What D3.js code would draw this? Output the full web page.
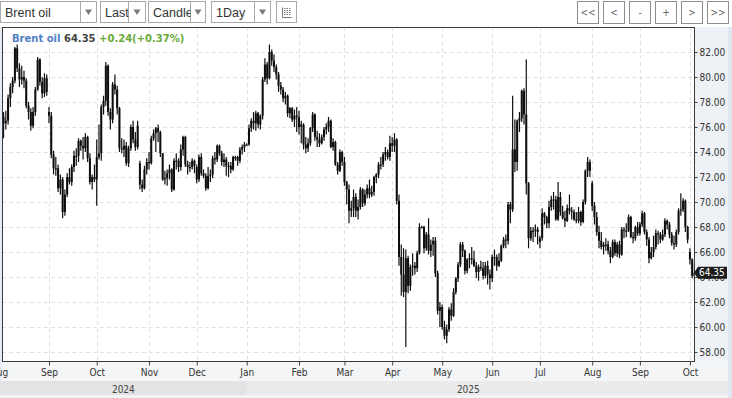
<!DOCTYPE html>
<html><head><meta charset="utf-8">
<script src="https://cdn.jsdelivr.net/npm/d3@7"></script>
<style>
html,body{margin:0;padding:0;background:#fff;}
svg{display:block;}
</style>
</head><body>
<svg id="chart" width="732" height="398"></svg>
<script>
// ---------------- DATA ----------------
const instrument = "Brent oil";
const lastPrice = "64.35";
const changeText = "+0.24(+0.37%)";
const calendarStart = "2024-08-01";
const calendarEnd = "2025-10-03";
const firstBarDate = "2024-08-05";
const yTicks = [58,60,62,64,66,68,70,72,74,76,78,80,82];
const years = ["2024","2025"];
const toolbarItems = ["Brent oil","Last","Candle","1Day"];
const navButtons = ["<<","<","-","+",">",">>"];

const opens = [
76.8,76.3,76.5,78.3,79.2,79.7,82.3,80.7,79.8,80.0,79.7,77.7,77.2,76.1,77.2,79.0,81.4,79.6,78.7,79.9,
77.2,76.9,73.8,72.7,72.7,71.1,71.8,69.2,70.6,72.0,71.6,72.8,73.7,73.7,74.9,74.5,74.3,75.2,73.5,71.6,72.0,
71.8,73.6,73.9,77.6,78.1,80.9,77.2,76.6,79.4,79.0,77.5,74.3,74.2,74.5,73.1,74.3,76.0,75.0,74.4,73.1,71.4,71.1,72.6,
73.2,73.1,75.1,75.5,75.9,75.6,73.9,71.8,71.9,72.3,72.6,71.0,73.3,73.3,72.8,74.2,75.2,73.0,72.8,72.8,73.3,
72.8,71.8,73.6,72.3,72.1,71.1,72.1,72.2,73.5,73.4,74.5,73.9,73.2,73.4,72.9,72.9,72.6,73.6,73.6,73.3,74.2,74.4,
74.6,74.6,75.9,76.5,76.3,77.1,76.2,76.9,79.8,81.0,79.9,82.0,81.3,80.8,80.2,79.3,79.0,78.3,78.5,77.1,77.5,76.6,76.9,
76.8,76.0,76.2,74.6,74.3,74.7,75.9,77.0,75.2,75.0,74.7,75.2,75.8,76.0,76.5,74.4,74.8,73.0,72.5,74.0,
73.2,71.6,71.0,69.3,69.5,70.4,69.3,69.6,71.0,69.9,70.6,71.1,70.6,70.8,72.0,72.2,73.0,73.0,73.8,74.0,73.6,
74.7,74.5,75.0,70.1,65.6,64.2,62.8,65.5,63.3,64.8,64.9,64.7,65.9,68.0,68.0,66.3,67.4,66.1,66.6,66.9,64.3,61.3,
61.6,60.0,59.3,59.8,61.4,60.9,62.8,63.9,65.0,66.6,66.1,64.5,65.4,65.5,65.4,64.9,64.4,64.8,64.7,64.1,64.9,64.2,
63.9,65.6,65.6,64.9,65.3,66.5,67.0,66.9,69.8,69.4,74.2,73.2,76.5,76.7,78.9,77.0,71.5,67.1,67.7,67.7,67.8,
66.8,67.1,69.1,68.8,68.3,69.6,70.2,70.2,68.6,70.4,69.2,68.7,68.5,69.5,69.3,69.2,68.6,68.5,69.2,68.4,70.0,72.5,73.2,
71.5,69.7,68.8,67.6,66.9,66.4,66.6,66.6,66.1,65.6,66.8,65.9,66.6,65.8,67.8,67.7,67.7,68.8,67.2,67.1,68.0,
67.5,68.2,69.1,67.6,67.0,65.5,66.0,66.4,67.5,67.4,67.0,67.4,68.5,68.2,67.4,66.7,66.6,67.6,69.3,69.4,70.1,68.0,
66.0,65.4,64.1];

const highs = [
77.2,77.3,78.6,79.5,80.0,82.4,82.6,81.1,80.9,80.5,79.9,78.0,77.5,77.6,79.2,81.6,81.5,80.0,80.3,80.2,
77.6,77.2,74.1,73.6,73.0,72.2,72.0,71.0,72.3,72.7,73.0,74.1,74.3,75.1,75.0,75.2,75.5,75.3,73.9,72.2,73.0,
75.0,76.2,77.8,78.5,81.2,81.0,77.5,79.6,80.2,79.3,77.6,75.1,75.0,74.8,74.5,76.2,76.5,75.6,76.5,73.3,71.8,72.9,73.5,
74.0,75.3,75.8,76.0,76.2,75.7,73.9,72.5,72.6,73.0,72.7,73.5,73.9,73.5,74.6,75.3,75.3,73.3,73.2,73.5,73.4,
73.0,73.8,73.9,72.6,72.3,72.8,72.6,73.7,74.0,74.6,74.6,74.1,73.9,73.6,73.2,73.2,73.7,73.7,73.7,74.4,74.6,74.8,
74.7,76.2,76.7,77.2,77.3,77.2,77.0,80.0,81.5,81.2,82.6,82.2,81.8,81.0,80.4,79.6,79.2,78.8,78.6,77.6,77.6,77.4,77.6,
77.3,76.5,76.3,75.2,75.1,76.0,77.2,77.1,75.7,75.5,75.4,76.0,76.3,76.8,76.6,75.1,74.9,73.2,74.2,74.1,
73.6,71.7,71.4,70.1,71.0,70.7,70.2,71.2,71.1,71.0,71.4,71.8,71.3,72.1,72.3,73.2,73.6,74.0,74.4,74.2,75.3,
75.2,75.5,75.1,70.6,66.6,66.3,66.2,65.7,65.0,65.9,65.2,66.1,68.3,68.1,68.1,67.6,68.7,67.0,67.2,67.2,64.5,62.0,
61.8,60.5,60.2,61.6,61.9,63.1,64.0,65.2,66.8,66.8,66.2,65.5,65.9,66.4,66.1,65.2,65.0,65.3,65.2,65.2,65.3,64.6,
65.8,66.2,65.8,65.9,66.6,67.2,67.4,70.0,70.0,78.5,76.6,76.6,77.2,79.0,79.1,81.4,71.6,68.0,68.0,68.2,68.0,
67.3,69.5,69.2,68.9,70.1,70.5,70.8,70.5,71.6,70.8,69.7,69.3,69.8,70.6,69.6,69.4,69.2,69.6,69.3,70.2,72.6,73.6,73.4,
71.7,70.0,69.2,68.1,67.6,66.8,67.1,66.9,66.4,67.0,67.0,66.8,66.9,68.0,68.0,68.3,69.0,68.9,67.6,68.1,68.4,
68.4,69.3,69.2,67.8,67.2,66.4,67.3,67.8,67.7,67.6,67.8,68.7,68.6,68.4,67.6,67.3,67.8,69.5,70.7,70.3,70.2,68.1,
66.3,65.5,65.0];

const lows = [
75.1,75.8,76.2,77.6,78.7,79.5,80.4,79.2,79.4,79.1,77.5,76.6,75.7,75.9,76.9,78.9,79.3,78.3,78.4,78.5,
76.3,73.5,72.2,72.1,70.8,70.6,68.7,68.9,70.4,71.4,71.3,72.4,72.9,73.2,74.1,73.4,74.0,73.2,71.4,71.0,71.6,
69.7,73.4,73.3,77.0,77.7,76.9,75.8,76.3,78.6,77.0,74.0,73.9,73.6,72.9,72.8,74.1,74.7,74.1,74.2,71.0,70.8,71.0,72.2,
72.6,73.0,74.9,74.0,74.8,73.6,71.7,71.4,71.3,71.8,70.8,70.9,72.6,72.4,72.5,73.7,72.8,72.2,72.4,72.6,72.3,
71.5,71.6,72.1,71.9,70.9,71.0,71.6,71.9,73.0,73.2,73.7,72.9,72.8,72.1,72.0,72.3,72.5,73.3,72.9,73.1,73.8,74.0,
74.5,74.5,75.6,75.8,75.7,75.9,75.8,76.6,79.6,79.4,79.8,80.9,80.4,79.8,78.8,78.6,78.0,77.8,76.8,76.7,76.4,76.0,75.6,
75.4,74.7,74.2,73.9,74.0,74.5,75.6,74.9,74.4,74.4,74.6,74.9,75.4,75.6,74.3,74.1,72.9,72.2,72.4,72.9,
71.3,69.8,68.3,68.8,68.8,68.8,68.6,69.4,69.6,69.7,70.3,70.3,70.4,70.5,71.5,71.9,72.6,72.8,73.3,73.4,73.3,
74.0,74.0,69.8,64.9,62.5,62.4,58.4,62.7,62.9,64.1,64.2,64.4,65.8,67.9,65.9,66.1,65.8,65.6,65.7,64.0,61.0,60.0,
59.8,59.0,58.7,59.6,60.5,60.8,62.6,63.6,64.8,65.6,64.2,64.3,64.7,65.0,64.8,63.9,63.7,64.5,63.8,63.9,63.4,63.0,
63.6,64.9,64.5,64.8,65.2,66.3,66.3,66.6,68.3,69.2,72.4,72.5,75.6,76.4,76.2,70.6,66.3,66.9,66.8,67.2,66.6,
66.3,66.9,68.2,67.9,67.9,69.3,69.4,68.5,68.5,68.9,68.6,68.0,68.4,69.0,68.6,68.5,68.3,68.3,68.1,68.3,69.8,72.0,72.0,
69.3,68.2,67.3,66.3,66.2,65.8,66.1,65.8,65.1,65.5,65.7,65.6,65.5,65.7,67.1,67.2,67.6,67.1,66.7,66.9,67.3,
67.3,68.0,67.4,66.5,65.1,65.4,65.6,66.2,66.6,66.7,66.9,67.2,67.8,67.1,66.5,66.2,66.4,67.4,68.9,69.2,67.6,66.7,
65.0,63.9,63.7];

const closes = [
76.3,76.5,78.3,79.2,79.7,82.3,80.7,79.8,80.0,79.7,77.7,77.2,76.1,77.2,79.0,81.4,79.6,78.7,79.9,78.8,
76.9,73.8,72.7,72.7,71.1,71.8,69.2,70.6,72.0,71.6,72.8,73.7,73.7,74.9,74.5,74.3,75.2,73.5,71.6,72.0,71.8,
73.6,73.9,77.6,78.1,80.9,77.2,76.6,79.4,79.0,77.5,74.3,74.2,74.5,73.1,74.3,76.0,75.0,74.4,76.1,71.4,71.1,72.6,73.2,
73.1,75.1,75.5,75.9,75.6,73.9,71.8,71.9,72.3,72.6,71.0,73.3,73.3,72.8,74.2,75.2,73.0,72.8,72.8,73.3,72.9,
71.8,73.6,72.3,72.1,71.1,72.1,72.2,73.5,73.4,74.5,73.9,73.2,73.4,72.9,72.9,72.6,73.6,73.6,73.3,74.2,74.4,74.6,
74.6,75.9,76.5,76.3,77.1,76.2,76.9,79.8,81.0,79.9,82.0,81.3,80.8,80.2,79.3,79.0,78.3,78.5,77.1,77.5,76.6,76.9,76.8,
76.0,76.2,74.6,74.3,74.7,75.9,77.0,75.2,75.0,74.7,75.2,75.8,76.0,76.5,74.4,74.8,73.0,72.5,74.0,73.2,
71.6,71.0,69.3,69.5,70.4,69.3,69.6,71.0,69.9,70.6,71.1,70.6,70.8,72.0,72.2,73.0,73.0,73.8,74.0,73.6,74.7,
74.5,75.0,70.1,65.6,64.2,62.8,65.5,63.3,64.8,64.9,64.7,65.9,68.0,68.0,66.3,67.4,66.1,66.6,66.9,64.3,61.3,61.6,
60.0,59.3,59.8,61.4,60.9,62.8,63.9,65.0,66.6,66.1,64.5,65.4,65.5,65.4,64.9,64.4,64.8,64.7,64.1,64.9,64.2,63.9,
65.6,65.6,64.9,65.3,66.5,67.0,66.9,69.8,69.4,74.2,73.2,76.5,76.7,78.9,77.0,71.5,67.1,67.7,67.7,67.8,67.6,
67.1,69.1,68.8,68.3,69.6,70.2,70.2,68.6,70.4,69.2,68.7,68.5,69.5,69.3,69.2,68.6,68.5,69.2,68.4,70.0,72.5,73.2,72.5,
69.7,68.8,67.6,66.9,66.4,66.6,66.6,66.1,65.6,66.8,65.9,66.6,65.8,67.8,67.7,67.7,68.8,67.2,67.1,68.0,67.5,
68.2,69.1,67.6,67.0,65.5,66.0,66.4,67.5,67.4,67.0,67.4,68.5,68.2,67.4,66.7,66.6,67.6,69.3,69.4,70.1,68.0,67.0,
65.4,64.1,64.35];

// ---------------- LAYOUT ----------------
const W = 732, H = 398;
const plot = {left: 2, right: 695, top: 27, bottom: 361};
const AXIS_FONT = "'DejaVu Sans Condensed','DejaVu Sans',sans-serif";

const svg = d3.select("#chart");
const parse = d3.timeParse("%Y-%m-%d");
const fmtDay = d3.timeFormat("%Y-%m-%d");

// trading calendar (weekdays)
const calendar = d3.timeDay.range(parse(calendarStart), d3.timeDay.offset(parse(calendarEnd), 1))
  .filter(d => d.getDay() !== 0 && d.getDay() !== 6);
const offset = calendar.findIndex(d => fmtDay(d) === firstBarDate);
const bars = closes.map((c, i) => ({idx: i + offset, o: opens[i], h: highs[i], l: lows[i], c}));

const x = d3.scaleLinear().domain([offset - 0.5, offset + closes.length - 0.5]).range([2.4, 695.6]);
const y = d3.scaleLinear().domain([58, 82]).range([352, 52]);

// month tick indices
const monthIdx = calendar.map((d, i) => i).filter(i => i === 0 || calendar[i].getMonth() !== calendar[i-1].getMonth());
const fmtMonth = d3.timeFormat("%b");

// ---------------- BACKGROUNDS ----------------
svg.append("rect").attr("x",0).attr("y",0).attr("width",W).attr("height",H).attr("fill","#ffffff");
svg.append("rect").attr("x",0).attr("y",plot.top).attr("width",W).attr("height",H-plot.top).attr("fill","#eef1f5");
svg.append("rect").attr("x",728).attr("y",plot.top).attr("width",4).attr("height",H-plot.top).attr("fill","#dde6f1");
svg.append("rect").attr("x",0).attr("y",plot.top).attr("width",2).attr("height",H-plot.top).attr("fill","#e6ecf3");
// month label row
svg.append("rect").attr("x",2).attr("y",plot.bottom).attr("width",726).attr("height",20).attr("fill","#f4f5f7");
// year row
const janIdx = monthIdx.find(i => calendar[i].getMonth() === 0);
const xJan = x(janIdx);
const xLastMonth = x(monthIdx[monthIdx.length-1]);
svg.append("rect").attr("x",0).attr("y",381).attr("width",xJan).attr("height",14).attr("fill","#e3e3e3");
svg.append("rect").attr("x",xJan).attr("y",381).attr("width",728-xJan).attr("height",14).attr("fill","#ebebeb");
svg.append("rect").attr("x",0).attr("y",395).attr("width",728).attr("height",3).attr("fill","#f3f4f6");

svg.append("g").selectAll("text").data(years).join("text")
  .attr("x",(d,i) => i === 0 ? xJan/2 : (xJan + xLastMonth)/2)
  .attr("y",392.5).attr("text-anchor","middle")
  .attr("font-family",AXIS_FONT).attr("font-size",10).attr("fill","#444")
  .text(d => d);

// plot area
svg.append("rect").attr("x",plot.left).attr("y",plot.top)
  .attr("width",plot.right-plot.left).attr("height",plot.bottom-plot.top).attr("fill","#ffffff");

svg.append("defs").append("clipPath").attr("id","plotclip").append("rect")
  .attr("x",plot.left).attr("y",plot.top).attr("width",plot.right-plot.left).attr("height",plot.bottom-plot.top);

// grid
const grid = svg.append("g").attr("clip-path","url(#plotclip)")
  .attr("stroke","#e2e2e2").attr("stroke-width",1).attr("stroke-dasharray","4,3");
grid.selectAll("line.h").data(yTicks).join("line").attr("class","h")
  .attr("x1",plot.left).attr("x2",plot.right)
  .attr("y1",d => Math.round(y(d))+0.5).attr("y2",d => Math.round(y(d))+0.5);
grid.selectAll("line.v").data(monthIdx).join("line").attr("class","v")
  .attr("x1",d => Math.round(x(d))+0.5).attr("x2",d => Math.round(x(d))+0.5)
  .attr("y1",plot.top).attr("y2",plot.bottom);

// ---------------- CANDLES ----------------
const bodyW = 2.0;
const cg = svg.append("g").attr("clip-path","url(#plotclip)");
cg.selectAll("line.wick").data(bars).join("line").attr("class","wick")
  .attr("x1",d => x(d.idx)).attr("x2",d => x(d.idx))
  .attr("y1",d => y(Math.max(d.h, d.o, d.c))).attr("y2",d => y(Math.min(d.l, d.o, d.c)))
  .attr("stroke","#0e0e0e").attr("stroke-width",1.2);
cg.selectAll("rect.body").data(bars).join("rect").attr("class","body")
  .attr("x",d => x(d.idx) - bodyW/2).attr("width",bodyW)
  .attr("y",d => y(Math.max(d.o, d.c)))
  .attr("height",d => Math.max(1.2, y(Math.min(d.o, d.c)) - y(Math.max(d.o, d.c))))
  .attr("fill","#0e0e0e");

// ---------------- FRAME & AXES ----------------
svg.append("rect").attr("x",plot.left+0.5).attr("y",plot.top+0.5)
  .attr("width",plot.right-plot.left-1).attr("height",plot.bottom-plot.top)
  .attr("fill","none").attr("stroke","#3a3a3a").attr("stroke-width",1);

// y axis (right)
const yAxis = d3.axisRight(y).tickValues(yTicks).tickSize(3).tickPadding(2).tickFormat(d3.format(".2f"));
const yg = svg.append("g").attr("transform",`translate(${plot.right-0.5},0)`).call(yAxis);
yg.select(".domain").remove();
yg.selectAll("line").attr("stroke","#444");
yg.selectAll("text").attr("font-family",AXIS_FONT).attr("font-size",10).attr("fill","#333");

// x axis (bottom)
const xAxis = d3.axisBottom(x).tickValues(monthIdx).tickSize(4).tickPadding(3)
  .tickFormat(i => fmtMonth(calendar[i]));
const xg = svg.append("g").attr("transform",`translate(0,${plot.bottom+0.5})`).call(xAxis);
xg.select(".domain").remove();
xg.selectAll("line").attr("stroke","#444");
xg.selectAll("text").attr("font-family",AXIS_FONT).attr("font-size",10).attr("fill","#333");
svg.append("line").attr("x1",plot.left).attr("x2",plot.right).attr("y1",plot.bottom+0.5).attr("y2",plot.bottom+0.5)
  .attr("stroke","#3a3a3a");

// last price tag
const yLast = y(+lastPrice);
svg.append("path")
  .attr("d",`M${plot.right-1},${yLast} L${plot.right+3},${yLast-6} L727,${yLast-6} L727,${yLast+6} L${plot.right+3},${yLast+6} Z`)
  .attr("fill","#1c1c1c");
svg.append("text").attr("x",699).attr("y",yLast+3.6)
  .attr("font-family",AXIS_FONT).attr("font-size",10).attr("fill","#ffffff").text(lastPrice);

// title
const title = svg.append("text").attr("x",12).attr("y",41.5)
  .attr("font-family","'DejaVu Sans',Verdana,sans-serif").attr("font-size",10).attr("font-weight","bold");
title.append("tspan").attr("fill","#4f7ec4").text(instrument + " ");
title.append("tspan").attr("fill","#444").text(lastPrice + " ");
title.append("tspan").attr("fill","#6aaa3c").text(changeText);

// ---------------- TOOLBAR ----------------
const boxes = [
  {x0: 0.5, div: 80.5, x1: 96.5},
  {x0: 100.5, div: 128.5, x1: 145.5},
  {x0: 148.5, div: 190.5, x1: 205.5},
  {x0: 211.5, div: 254.5, x1: 270.5}
];
const tb = svg.append("g");
boxes.forEach((b, i) => {
  tb.append("clipPath").attr("id","tbclip"+i).append("rect")
    .attr("x",b.x0).attr("y",2).attr("width",b.div-b.x0).attr("height",20);
  tb.append("rect").attr("x",b.x0).attr("y",1.5).attr("width",b.x1-b.x0).attr("height",21)
    .attr("fill","#fff").attr("stroke","#a9a9a9");
  tb.append("line").attr("x1",b.div).attr("x2",b.div).attr("y1",1.5).attr("y2",22.5).attr("stroke","#a9a9a9");
  tb.append("text").attr("x",b.x0+4.5).attr("y",16.5).attr("clip-path",`url(#tbclip${i})`)
    .attr("font-family","'Liberation Sans',Arial,sans-serif").attr("font-size",12.5).attr("fill","#333")
    .text(toolbarItems[i]);
  const cx = (b.div + b.x1)/2, cy = 12;
  tb.append("path").attr("d",`M${cx-3.5},${cy-2.5} L${cx+3.5},${cy-2.5} L${cx},${cy+3} Z`).attr("fill","#7a7a7a");
});
// icon button
tb.append("rect").attr("x",276.5).attr("y",1.5).attr("width",20).attr("height",21).attr("fill","#fff").attr("stroke","#a9a9a9");
const ic = tb.append("g").attr("stroke","#777").attr("stroke-width",1).attr("fill","none");
ic.append("path").attr("d","M282.5,7.5 L282.5,17.5 L291.5,17.5");
[8.5,10.5,12.5,14.5].forEach(yy => ic.append("line").attr("x1",284).attr("x2",290.5).attr("y1",yy).attr("y2",yy).attr("stroke-dasharray","1.5,1"));

// nav buttons
const navX = [577, 603, 629, 655, 681, 707];
const nav = svg.append("g");
navButtons.forEach((t, i) => {
  nav.append("rect").attr("x",navX[i]+0.5).attr("y",1.5).attr("width",21).attr("height",22)
    .attr("fill","#fff").attr("stroke","#8e8e8e");
  nav.append("text").attr("x",navX[i]+11).attr("y",16).attr("text-anchor","middle")
    .attr("font-family",AXIS_FONT).attr("font-size",10).attr("fill","#666").text(t);
});
</script>
</body></html>
